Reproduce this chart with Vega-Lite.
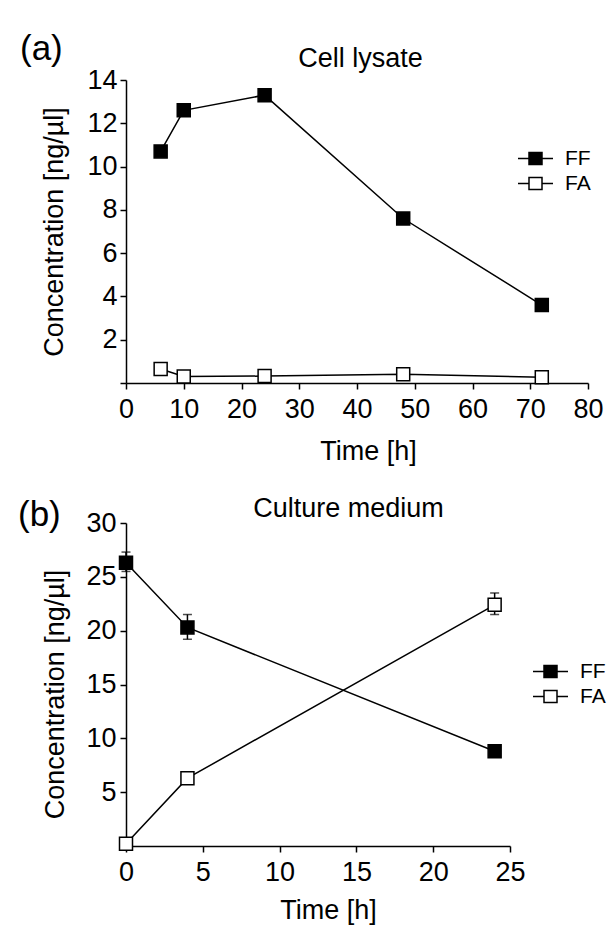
{
  "$schema": "https://vega.github.io/schema/vega-lite/v6.json",
  "padding": {"left": 18, "top": 32, "right": 5, "bottom": 5},
  "background": "white",
  "datasets": {
    "a": [
      {"compound": "FF", "time": 6, "conc": 10.7},
      {"compound": "FF", "time": 10, "conc": 12.6},
      {"compound": "FF", "time": 24, "conc": 13.3},
      {"compound": "FF", "time": 48, "conc": 7.6},
      {"compound": "FF", "time": 72, "conc": 3.6},
      {"compound": "FA", "time": 6, "conc": 0.65},
      {"compound": "FA", "time": 10, "conc": 0.3},
      {"compound": "FA", "time": 24, "conc": 0.32},
      {"compound": "FA", "time": 48, "conc": 0.4},
      {"compound": "FA", "time": 72, "conc": 0.27}
    ],
    "b": [
      {"compound": "FF", "time": 0, "conc": 26.3, "lo": 25.5, "hi": 27.3},
      {"compound": "FF", "time": 4, "conc": 20.3, "lo": 19.2, "hi": 21.5},
      {"compound": "FF", "time": 24, "conc": 8.8, "lo": 8.8, "hi": 8.8},
      {"compound": "FA", "time": 0, "conc": 0.2, "lo": 0.2, "hi": 0.2},
      {"compound": "FA", "time": 4, "conc": 6.3, "lo": 6.3, "hi": 6.3},
      {"compound": "FA", "time": 24, "conc": 22.4, "lo": 21.5, "hi": 23.5}
    ]
  },
  "config": {
    "font": "Liberation Sans",
    "view": {"stroke": null},
    "axis": {
      "grid": false,
      "domainColor": "black",
      "domainWidth": 1.5,
      "tickColor": "black",
      "tickWidth": 1.5,
      "tickSize": 6,
      "labelColor": "black",
      "labelFontSize": 27,
      "labelFont": "Liberation Sans",
      "titleColor": "black",
      "titleFontSize": 27,
      "titleFontWeight": "normal",
      "titleFont": "Liberation Sans",
      "labelFlush": false,
      "labelOverlap": false
    },
    "legend": {
      "title": null,
      "padding": 0,
      "rowPadding": 1,
      "labelFontSize": 21,
      "labelColor": "black",
      "labelFont": "Liberation Sans",
      "symbolType": "M-1.4,0H-0.52M0.52,0H1.4M-0.52,-0.48H0.52V0.48H-0.52Z",
      "symbolSize": 625,
      "symbolStrokeColor": "black",
      "symbolStrokeWidth": 1.5,
      "labelOffset": 16
    },
    "title": {"color": "black", "fontWeight": "normal", "font": "Liberation Sans"}
  },
  "resolve": {"scale": {"fill": "independent"}, "legend": {"fill": "independent"}},
  "concat": [
    {
      "width": 462,
      "height": 303,
      "title": {"text": "(a)", "anchor": "start", "frame": "bounds", "fontSize": 35, "baseline": "alphabetic", "offset": -51, "dx": -20},
      "data": {"name": "a"},
      "encoding": {
        "y": {"field": "conc", "type": "quantitative", "scale": {"domain": [0, 14], "nice": false},
              "axis": {"title": "Concentration [ng/µl]", "values": [0, 2, 4, 6, 8, 10, 12, 14], "labelExpr": "datum.value == 0 ? '' : datum.label", "labelPadding": 3, "titleX": -72, "titleY": 151.5, "titleAngle": -90, "titleAlign": "center", "titleBaseline": "middle"}}
      },
      "layer": [
        {
          "mark": {"type": "line", "color": "black", "strokeWidth": 1.5},
          "encoding": {
            "x": {"field": "time", "type": "quantitative", "scale": {"domain": [0, 80], "nice": false, "zero": false},
                  "axis": {"orient": "top", "title": "Cell lysate", "domain": false, "ticks": false, "labels": false, "titleFontSize": 27, "titleX": 234, "titleY": -14, "titleAlign": "center", "titleBaseline": "alphabetic"}},
            "detail": {"field": "compound"}
          }
        },
        {
          "mark": {"type": "point", "shape": "square", "size": 169, "filled": true, "opacity": 1, "stroke": "black", "strokeWidth": 1.5},
          "encoding": {
            "x": {"field": "time", "type": "quantitative",
                  "axis": {"orient": "bottom", "title": "Time [h]", "values": [0, 10, 20, 30, 40, 50, 60, 70, 80], "labelPadding": 7, "titleX": 242, "titleY": 68, "titleAlign": "center", "titleBaseline": "middle"}},
            "fill": {"field": "compound", "type": "nominal", "scale": {"domain": ["FF", "FA"], "range": ["black", "white"]},
                     "legend": {"orient": "none", "legendX": 396, "legendY": 65}}
          }
        }
      ],
      "resolve": {"axis": {"x": "independent"}}
    },
    {
      "width": 384,
      "height": 323,
      "title": {"text": "(b)", "anchor": "start", "frame": "bounds", "fontSize": 35, "baseline": "alphabetic", "offset": -67, "dx": -23},
      "data": {"name": "b"},
      "encoding": {
        "y": {"field": "conc", "type": "quantitative", "scale": {"domain": [0, 30], "nice": false},
              "axis": {"title": "Concentration [ng/µl]", "values": [0, 5, 10, 15, 20, 25, 30], "labelExpr": "datum.value == 0 ? '' : datum.label", "labelPadding": 4, "titleX": -71, "titleY": 171, "titleAngle": -90, "titleAlign": "center", "titleBaseline": "middle"}}
      },
      "layer": [
        {
          "mark": {"type": "line", "color": "black", "strokeWidth": 1.5},
          "encoding": {
            "x": {"field": "time", "type": "quantitative", "scale": {"domain": [0, 25], "nice": false, "zero": false},
                  "axis": {"orient": "top", "title": "Culture medium", "domain": false, "ticks": false, "labels": false, "titleFontSize": 27, "titleX": 222, "titleY": -7, "titleAlign": "center", "titleBaseline": "alphabetic"}},
            "detail": {"field": "compound"}
          }
        },
        {
          "mark": {"type": "errorbar", "color": "black", "thickness": 1.5, "ticks": {"size": 9, "thickness": 1.5, "color": "black"}},
          "encoding": {
            "x": {"field": "time", "type": "quantitative", "axis": null},
            "y": {"field": "lo", "type": "quantitative"},
            "y2": {"field": "hi"}
          }
        },
        {
          "mark": {"type": "point", "shape": "square", "size": 169, "filled": true, "opacity": 1, "stroke": "black", "strokeWidth": 1.5},
          "encoding": {
            "x": {"field": "time", "type": "quantitative",
                  "axis": {"orient": "bottom", "title": "Time [h]", "values": [0, 5, 10, 15, 20, 25], "labelPadding": 7, "titleX": 202, "titleY": 64, "titleAlign": "center", "titleBaseline": "middle"}},
            "fill": {"field": "compound", "type": "nominal", "scale": {"domain": ["FF", "FA"], "range": ["black", "white"]},
                     "legend": {"orient": "none", "legendX": 411, "legendY": 135}}
          }
        }
      ],
      "resolve": {"axis": {"x": "independent"}}
    }
  ],
  "columns": 1,
  "align": "none",
  "spacing": 30
}
